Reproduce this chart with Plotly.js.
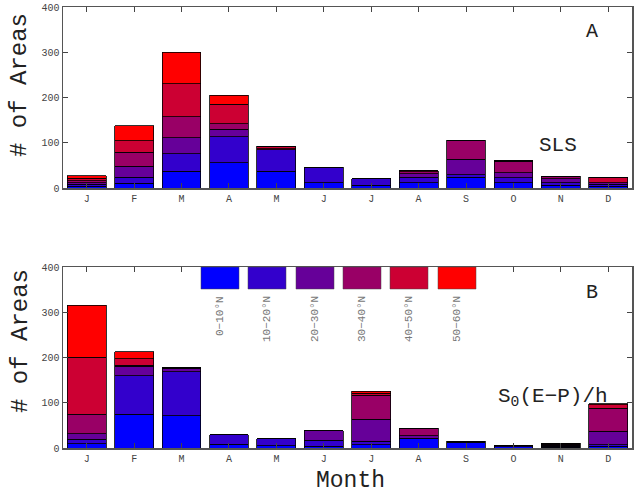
<!DOCTYPE html>
<html><head><meta charset="utf-8">
<script src="https://cdn.plot.ly/plotly-3.0.1.min.js"></script>
<style>html,body{margin:0;padding:0;background:#fff}</style>
</head><body><div id="chart" style="width:636px;height:493px"></div>
<script>
var months = ['Jan','Feb','Mar','Apr','May','Jun','Jul','Aug','Sep','Oct','Nov','Dec'];
var monthLabels = ['J','F','M','A','M','J','J','A','S','O','N','D'];
var bandNames = ['0\u221210\u00b0N','10\u221220\u00b0N','20\u221230\u00b0N','30\u221240\u00b0N','40\u221250\u00b0N','50\u221260\u00b0N'];
var bandColors = ['#0000ff','#3300cc','#660099','#990066','#cc0033','#ff0000'];

// Panel A (SLS): counts per month for each latitude band
var slsBand0 = [4, 10, 37, 56, 37, 12, 6, 12, 24, 12, 6, 4];
var slsBand1 = [4, 14, 39, 57, 48, 34, 15, 12, 5, 11, 6, 4];
var slsBand2 = [4, 24, 35, 17, 0, 0, 0, 7, 34, 11, 8, 4];
var slsBand3 = [4, 31, 47, 12, 2, 0, 0, 5, 41, 25, 6, 0];
var slsBand4 = [6, 25, 72, 43, 5, 0, 0, 2, 1, 1, 0, 12];
var slsBand5 = [5, 34, 70, 20, 0, 0, 0, 0, 0, 0, 0, 0];

// Panel B (S0(E-P)/h): counts per month for each latitude band
var epBand0 = [9, 75, 71, 8, 5, 4, 7, 20, 13, 3, 2, 4];
var epBand1 = [10, 85, 98, 21, 15, 13, 8, 2, 2, 3, 2, 3];
var epBand2 = [13, 21, 7, 0, 0, 21, 48, 5, 0, 0, 2, 30];
var epBand3 = [43, 2, 1, 0, 0, 0, 54, 16, 0, 0, 2, 51];
var epBand4 = [126, 14, 0, 0, 0, 0, 4, 1, 0, 0, 2, 8];
var epBand5 = [114, 16, 0, 0, 0, 0, 4, 0, 0, 0, 0, 2];

var yTicks = [0, 100, 200, 300, 400];

var sls = [slsBand0, slsBand1, slsBand2, slsBand3, slsBand4, slsBand5];
var ep = [epBand0, epBand1, epBand2, epBand3, epBand4, epBand5];

var traces = [];
sls.forEach(function(v, i){
  traces.push({type:'bar', x:months, y:v, xaxis:'x', yaxis:'y', name:bandNames[i],
    marker:{color:bandColors[i], line:{color:'#000', width:0.8}}, showlegend:false});
});
ep.forEach(function(v, i){
  traces.push({type:'bar', x:months, y:v, xaxis:'x2', yaxis:'y2', name:bandNames[i],
    marker:{color:bandColors[i], line:{color:'#000', width:0.8}}, showlegend:false});
});

var mono = 'Liberation Mono, DejaVu Sans Mono, monospace';
function xax(anchor){
  return {anchor:anchor, type:'category', categoryorder:'array', categoryarray:months,
    tickvals:months, ticktext:monthLabels, ticks:'inside', ticklen:5, tickcolor:'#444',
    showline:true, linecolor:'#555', linewidth:1.5, mirror:'ticks', showgrid:false,
    tickfont:{family:mono, size:10, color:'#444'}, zeroline:false, domain:[0,1]};
}
function yax(anchor, dom){
  return {anchor:anchor, domain:dom, range:[0,400], tickvals:yTicks, ticks:'inside', ticklen:5,
    tickcolor:'#444', showline:true, linecolor:'#555', linewidth:1.5, mirror:'ticks',
    showgrid:false, zeroline:false, tickfont:{family:mono, size:10, color:'#444'}};
}

// legend swatches (layout decoration)
var plotL = 63, plotW = 569;
function px(x){ return (x - plotL) / plotW; }
function py(y){ return (448 - y) / 441; }
var swatchCenters = [220, 267, 315, 362, 409, 457];
var shapes = [], annotations = [];
swatchCenters.forEach(function(c, i){
  shapes.push({type:'rect', xref:'paper', yref:'paper',
    x0:px(c-19), x1:px(c+19), y0:py(289), y1:py(267),
    fillcolor:bandColors[i], line:{color:'#444', width:0.5}});
  annotations.push({xref:'paper', yref:'paper', x:px(c), y:py(294), xanchor:'center', yanchor:'top',
    text:bandNames[i], textangle:-90, showarrow:false, font:{family:mono, size:11, color:'#777'}});
});
function label(text, x, y, size, angle){
  annotations.push({xref:'paper', yref:'paper', x:px(x), y:py(y), text:text, showarrow:false,
    xanchor:'center', yanchor:'middle', textangle:angle || 0,
    font:{family:mono, size:size, color:'#222'}});
}
label('A', 592, 32, 20);
label('SLS', 558, 145, 21);
label('B', 592, 292, 20);
label('S<sub>0</sub>(E\u2212P)/h', 553, 397, 21);
label('# of Areas', 20, 85, 24, -90);
label('# of Areas', 20, 341, 24, -90);
label('Month', 350, 481, 23);

var layout = {
  width:636, height:493, margin:{l:63, r:4, t:7, b:45},
  paper_bgcolor:'#fff', plot_bgcolor:'#fff', barmode:'stack', bargap:0.18,
  xaxis:xax('y'), yaxis:yax('x', [py(188), 1]),
  xaxis2:xax('y2'), yaxis2:yax('x2', [0, py(267)]),
  shapes:shapes, annotations:annotations, showlegend:false
};
Plotly.newPlot('chart', traces, layout, {displayModeBar:false, staticPlot:true});
</script></body></html>
